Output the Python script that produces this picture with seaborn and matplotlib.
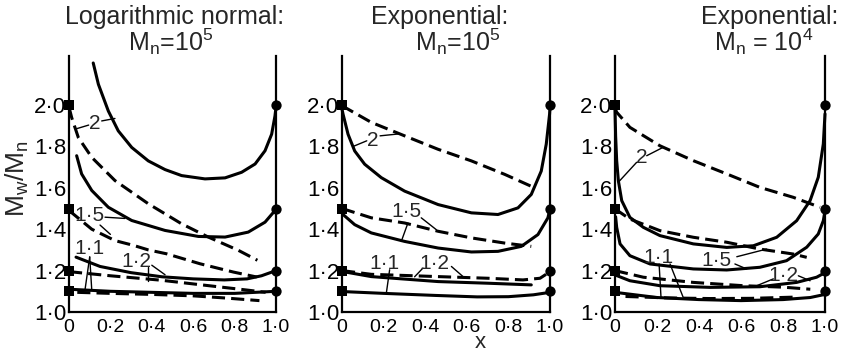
import matplotlib
matplotlib.use("Agg")
import matplotlib.pyplot as plt
import seaborn as sns

sns.set_theme(style="white")
plt.rcParams['font.family'] = ['Liberation Sans', 'DejaVu Sans']
plt.rcParams['mathtext.default'] = 'regular'

# ---------------- data ----------------
x_ticks = [0, 0.2, 0.4, 0.6, 0.8, 1.0]
x_tick_labels = ["0", "0·2", "0·4", "0·6", "0·8", "1·0"]
y_ticks = [1.0, 1.2, 1.4, 1.6, 1.8, 2.0]
y_tick_labels = ["1·0", "1·2", "1·4", "1·6", "1·8", "2·0"]
end_values = [1.1, 1.2, 1.5, 2.0]   # squares at x=0, circles at x=1

titles = ["Logarithmic normal:", "Exponential:", "Exponential:"]
subtitles = ["M$_n$=10$^5$", "M$_n$=10$^5$", "M$_n$ = 10$^4$"]

# Panel 1 : logarithmic normal, Mn = 1e5
ln_s2_x = [0.117, 0.142, 0.19, 0.238, 0.303, 0.383, 0.464, 0.544, 0.657, 0.754, 0.834, 0.899, 0.947, 0.979, 0.995, 1.0]
ln_s2_y = [2.203, 2.10, 1.971, 1.875, 1.795, 1.73, 1.688, 1.659, 1.643, 1.648, 1.675, 1.715, 1.779, 1.859, 1.947, 1.99]
ln_d2_x = [0.0, 0.013, 0.045, 0.11, 0.222, 0.383, 0.544, 0.673, 0.818, 0.91]
ln_d2_y = [1.99, 1.939, 1.843, 1.747, 1.635, 1.523, 1.426, 1.362, 1.298, 1.25]
ln_s15_x = [0.037, 0.061, 0.11, 0.19, 0.303, 0.464, 0.625, 0.754, 0.866, 0.947, 0.995, 1.0]
ln_s15_y = [1.755, 1.667, 1.587, 1.506, 1.442, 1.394, 1.365, 1.362, 1.386, 1.434, 1.49, 1.50]
ln_d15_x = [0.0, 0.02, 0.11, 0.222, 0.311, 0.383, 0.472, 0.633, 0.794, 0.907]
ln_d15_y = [1.49, 1.474, 1.40, 1.345, 1.322, 1.30, 1.281, 1.233, 1.193, 1.169]
ln_s12_x = [0.034, 0.15, 0.3, 0.45, 0.6, 0.75, 0.86, 0.93, 1.0]
ln_s12_y = [1.265, 1.22, 1.19, 1.17, 1.16, 1.155, 1.16, 1.175, 1.20]
ln_d12_x = [0, 0.2, 0.44, 0.65, 0.86, 0.95]
ln_d12_y = [1.195, 1.175, 1.154, 1.13, 1.106, 1.095]
ln_s11_x = [0, 0.2, 0.4, 0.6, 0.8, 1.0]
ln_s11_y = [1.11, 1.10, 1.095, 1.09, 1.09, 1.10]
ln_d11_x = [0.04, 0.2, 0.4, 0.6, 0.75, 0.92]
ln_d11_y = [1.095, 1.09, 1.085, 1.078, 1.068, 1.055]

# Panel 2 : exponential, Mn = 1e5
e5_s2_x = [0.0, 0.005, 0.029, 0.061, 0.109, 0.189, 0.301, 0.462, 0.622, 0.75, 0.846, 0.91, 0.958, 0.982, 0.998, 1.0]
e5_s2_y = [1.98, 1.956, 1.859, 1.778, 1.714, 1.649, 1.584, 1.519, 1.479, 1.471, 1.503, 1.568, 1.681, 1.811, 1.956, 1.99]
e5_d2_x = [0.0, 0.013, 0.141, 0.301, 0.462, 0.622, 0.782, 0.926]
e5_d2_y = [2.0, 1.989, 1.916, 1.851, 1.786, 1.73, 1.665, 1.60]
e5_s15_x = [0.0, 0.005, 0.061, 0.141, 0.301, 0.462, 0.622, 0.75, 0.862, 0.942, 0.99, 1.0]
e5_s15_y = [1.48, 1.471, 1.422, 1.382, 1.341, 1.309, 1.29, 1.293, 1.317, 1.374, 1.455, 1.50]
e5_d15_x = [0.0, 0.141, 0.301, 0.462, 0.622, 0.782, 0.91]
e5_d15_y = [1.50, 1.455, 1.43, 1.39, 1.358, 1.333, 1.317]
e5_s12_x = [0.0, 0.141, 0.462, 0.702, 0.91]
e5_s12_y = [1.196, 1.171, 1.147, 1.139, 1.131]
e5_d12_x = [0.0, 0.141, 0.462, 0.702, 0.87, 0.952, 0.99, 1.0]
e5_d12_y = [1.20, 1.182, 1.171, 1.163, 1.155, 1.163, 1.188, 1.20]
e5_s11_x = [0.02, 0.2, 0.45, 0.65, 0.8, 0.92, 1.0]
e5_s11_y = [1.098, 1.09, 1.08, 1.073, 1.074, 1.083, 1.095]

# Panel 3 : exponential, Mn = 1e4
e4_s2_x = [0.0, 0.003, 0.008, 0.016, 0.032, 0.071, 0.135, 0.214, 0.373, 0.532, 0.659, 0.77, 0.865, 0.929, 0.968, 0.992, 1.0]
e4_s2_y = [1.98, 1.85, 1.731, 1.634, 1.538, 1.457, 1.409, 1.369, 1.329, 1.312, 1.32, 1.361, 1.441, 1.538, 1.651, 1.812, 1.957]
e4_d2_x = [0.0, 0.008, 0.071, 0.214, 0.373, 0.532, 0.69, 0.849, 0.976]
e4_d2_y = [1.985, 1.965, 1.892, 1.803, 1.731, 1.667, 1.602, 1.554, 1.506]
e4_s15_x = [0.003, 0.008, 0.024, 0.071, 0.167, 0.373, 0.532, 0.69, 0.817, 0.913, 0.968, 0.992, 1.0]
e4_s15_y = [1.46, 1.409, 1.329, 1.272, 1.232, 1.208, 1.203, 1.216, 1.248, 1.313, 1.377, 1.441, 1.49]
e4_d15_x = [0.0, 0.071, 0.214, 0.373, 0.532, 0.69, 0.849, 0.913]
e4_d15_y = [1.498, 1.449, 1.393, 1.361, 1.337, 1.304, 1.28, 1.264]
e4_s12_x = [0.008, 0.071, 0.214, 0.452, 0.69, 0.865, 0.96, 1.0]
e4_s12_y = [1.176, 1.151, 1.127, 1.119, 1.122, 1.143, 1.168, 1.19]
e4_d12_x = [0.0, 0.135, 0.373, 0.611, 0.8, 0.93]
e4_d12_y = [1.20, 1.168, 1.143, 1.127, 1.12, 1.11]
e4_s11_x = [0, 0.2, 0.4, 0.6, 0.8, 0.93, 1.0]
e4_s11_y = [1.095, 1.07, 1.06, 1.055, 1.06, 1.07, 1.085]
e4_d11_x = [0.05, 0.25, 0.45, 0.65, 0.86]
e4_d11_y = [1.075, 1.068, 1.065, 1.066, 1.072]

panels = [
    {"solid": [(ln_s2_x, ln_s2_y), (ln_s15_x, ln_s15_y), (ln_s12_x, ln_s12_y), (ln_s11_x, ln_s11_y)],
     "dashed": [(ln_d2_x, ln_d2_y), (ln_d15_x, ln_d15_y), (ln_d12_x, ln_d12_y), (ln_d11_x, ln_d11_y)],
     "labels": [("2", 0.126, 1.91), ("1·5", 0.10, 1.466), ("1·1", 0.101, 1.306), ("1·2", 0.327, 1.242)],
     "leaders": [((0.095, 1.903), (0.035, 1.885)), ((0.158, 1.923), (0.222, 1.935)),
                 ((0.174, 1.458), (0.27, 1.452)), ((0.15, 1.42), (0.2, 1.375)),
                 ((0.10, 1.266), (0.077, 1.105)), ((0.10, 1.266), (0.11, 1.105)),
                 ((0.40, 1.226), (0.464, 1.18)), ((0.383, 1.218), (0.383, 1.152))]},
    {"solid": [(e5_s2_x, e5_s2_y), (e5_s15_x, e5_s15_y), (e5_s12_x, e5_s12_y), (e5_s11_x, e5_s11_y)],
     "dashed": [(e5_d2_x, e5_d2_y), (e5_d15_x, e5_d15_y), (e5_d12_x, e5_d12_y)],
     "labels": [("2", 0.15, 1.827), ("1·5", 0.309, 1.487), ("1·1", 0.205, 1.236), ("1·2", 0.446, 1.236)],
     "leaders": [((0.119, 1.827), (0.054, 1.80)), ((0.183, 1.851), (0.27, 1.86)),
                 ((0.317, 1.43), (0.285, 1.341)), ((0.381, 1.455), (0.453, 1.398)),
                 ((0.229, 1.204), (0.213, 1.09)),
                 ((0.389, 1.212), (0.349, 1.17)), ((0.526, 1.22), (0.59, 1.164))]},
    {"solid": [(e4_s2_x, e4_s2_y), (e4_s15_x, e4_s15_y), (e4_s12_x, e4_s12_y), (e4_s11_x, e4_s11_y)],
     "dashed": [(e4_d2_x, e4_d2_y), (e4_d15_x, e4_d15_y), (e4_d12_x, e4_d12_y), (e4_d11_x, e4_d11_y)],
     "labels": [("2", 0.127, 1.747), ("1·5", 0.484, 1.248), ("1·1", 0.206, 1.264), ("1·2", 0.80, 1.175)],
     "leaders": [((0.151, 1.755), (0.23, 1.796)), ((0.103, 1.723), (0.016, 1.627)),
                 ((0.58, 1.267), (0.722, 1.304)), ((0.571, 1.232), (0.627, 1.208)),
                 ((0.21, 1.232), (0.219, 1.072)), ((0.262, 1.232), (0.325, 1.07)),
                 ((0.754, 1.16), (0.675, 1.127)), ((0.873, 1.175), (0.929, 1.151))]},
]

# ---------------- layout ----------------
W, H = 852, 363
fig = plt.figure(figsize=(W / 100, H / 100), dpi=100)
ax_px = [(69, 207), (342, 208), (615, 210)]
bottom_px, top_px = 312, 56
title_pos = [(175, 171), (440, 458), (770, 764)]

dash_style = (0, (4.3, 2.0))
for i, (p, (l, w)) in enumerate(zip(panels, ax_px)):
    ax = fig.add_axes([l / W, (H - bottom_px) / H, w / W, (bottom_px - top_px) / H])
    ax.set_facecolor("white")
    for xs, ys in p["solid"]:
        sns.lineplot(x=xs, y=ys, ax=ax, color="black", linewidth=2.2, estimator=None,
                     sort=False, clip_on=False, zorder=3)
    for xs, ys in p["dashed"]:
        sns.lineplot(x=xs, y=ys, ax=ax, color="black", linewidth=2.2, estimator=None,
                     sort=False, linestyle=dash_style, clip_on=False, zorder=3)
    sns.scatterplot(x=[0] * len(end_values), y=end_values, ax=ax, marker="s", s=45,
                    color="black", linewidth=0, clip_on=False, zorder=6)
    sns.scatterplot(x=[1] * len(end_values), y=end_values, ax=ax, marker="o", s=55,
                    color="black", linewidth=0, clip_on=False, zorder=6)
    for txt, tx, ty in p["labels"]:
        ax.text(tx, ty, txt, fontsize=15, ha="center", va="center", zorder=5)
    for (x0, y0), (x1, y1) in p["leaders"]:
        ax.plot([x0, x1], [y0, y1], color="black", lw=1.0, zorder=4)

    ax.set_xlim(0, 1)
    ax.set_ylim(1.0, 1.0 + (bottom_px - top_px) / 207)
    ax.set_xticks(x_ticks)
    ax.set_xticklabels(x_tick_labels)
    ax.set_yticks(y_ticks)
    ax.set_yticklabels(y_tick_labels)
    ax.tick_params(direction="in", length=7, width=1.5, colors="black")
    ax.tick_params(axis="x", pad=5, labelsize=14)
    ax.tick_params(axis="y", pad=2, labelsize=16)
    for side in ["left", "right", "bottom"]:
        ax.spines[side].set_visible(True)
        ax.spines[side].set_color("black")
        ax.spines[side].set_linewidth(1.6)
    ax.spines["top"].set_visible(False)
    ax.set_xlabel("")
    ax.set_ylabel("")
    ax.grid(False)

    t1x, t2x = title_pos[i]
    fig.text(t1x / W, 1 - 17 / H, titles[i], fontsize=18, ha="center", va="center")
    fig.text(t2x / W, 1 - 42 / H, subtitles[i], fontsize=18, ha="center", va="center")

fig.text(17 / W, 1 - 179 / H, "M$_w$/M$_n$", fontsize=19, rotation=90, ha="center", va="center")
fig.text(480 / W, 1 - 343 / H, "x", fontsize=16, ha="center", va="center")

fig.savefig("out.png", dpi=100, facecolor="white")
